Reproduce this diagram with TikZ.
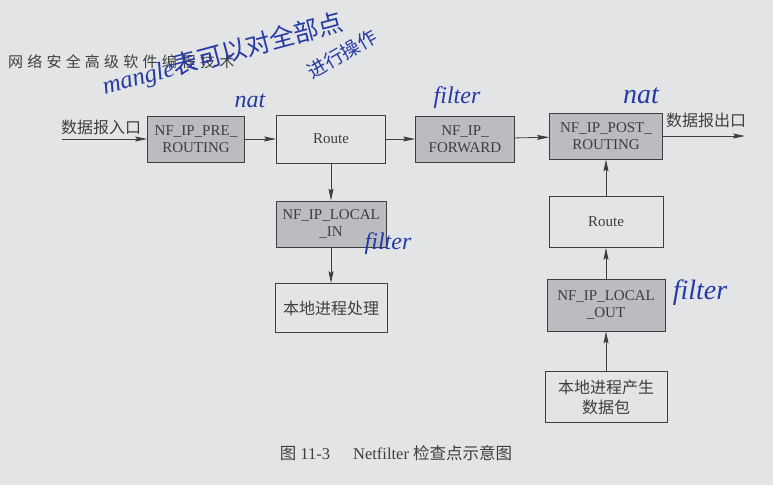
\documentclass[tikz,border=0pt]{standalone}
\usepackage{fontspec}
\setmainfont{Liberation Serif}
\newfontfamily\cjk{Noto Sans CJK SC}
\newfontfamily\cjkwide[LetterSpace=28]{Noto Sans CJK SC}
\usetikzlibrary{arrows.meta, positioning}
\definecolor{paper}{RGB}{226,228,230}
\definecolor{hookgray}{RGB}{186,188,191}
\definecolor{ink}{RGB}{62,62,64}
\definecolor{penblue}{RGB}{38,58,165}
\tikzstyle{arrow} = [ink, line width=0.8pt, -{Stealth[length=12pt,width=5pt,inset=2pt]}]
\tikzstyle{hookbox} = [draw=ink, line width=0.8pt, fill=hookgray, text=ink, minimum height=46pt, align=center, inner sep=2pt, font=\fontsize{15}{17}\selectfont]
\tikzstyle{plainbox} = [draw=ink, line width=0.8pt, text=ink, minimum height=48pt, align=center, inner sep=2pt, font=\fontsize{15}{17}\selectfont]
\tikzstyle{cjktext} = [font=\fontsize{16}{20}\selectfont\cjk]
\tikzstyle{pen} = [text=penblue, inner sep=0pt, font=\fontsize{24}{24}\selectfont\itshape]

\begin{document}
\begin{tikzpicture}[x=1pt, y=-1pt]
        \fill [paper] (0,0) rectangle (773,485);
        \useasboundingbox (0,0) rectangle (773,485);

        % header of the page
        \node at (8,62) [anchor=west, text=ink, inner sep=0pt, font=\fontsize{15}{15}\selectfont\cjkwide] (header) {网络安全高级软件编程技术};

        % main row
        \node at (196,139) [hookbox, minimum width=97pt] (pre) {NF\_IP\_PRE\_\\ROUTING};
        \node at (331,139) [plainbox, minimum width=109pt] (route) {Route};
        \node at (465,139) [hookbox, minimum width=99pt] (fwd) {NF\_IP\_\\FORWARD};
        \node at (606,136) [hookbox, minimum width=113pt] (post) {NF\_IP\_POST\_\\ROUTING};

        % local input
        \node at (331,224) [hookbox, minimum width=110pt] (lin) {NF\_IP\_LOCAL\\\_IN};
        \node at (331,308) [plainbox, cjktext, minimum width=112pt, minimum height=49pt] (proc) {本地进程处理};

        % local output
        \node at (606,222) [plainbox, minimum width=114pt, minimum height=51pt] (route2) {Route};
        \node at (606,305) [hookbox, minimum width=118pt, minimum height=52pt] (lout) {NF\_IP\_LOCAL\\\_OUT};
        \node at (606,397) [plainbox, cjktext, minimum width=122pt, minimum height=51pt] (prod) {本地进程产生\\数据包};

        \coordinate (in) at (62,139);
        \coordinate (out) at (745,136);
        \node at (101,127) [text=ink, cjktext] (inlabel) {数据报入口};
        \node at (706,120) [text=ink, cjktext] (outlabel) {数据报出口};

        \draw [arrow] (in) -- (pre);
        \draw [arrow] (pre) -- (route);
        \draw [arrow] (route) -- (fwd);
        \draw [arrow] (fwd) -- (post);
        \draw [arrow] (post) -- (out);
        \draw [arrow] (route) -- (lin);
        \draw [arrow] (lin) -- (proc);
        \draw [arrow] (prod) -- (lout);
        \draw [arrow] (lout) -- (route2);
        \draw [arrow] (route2) -- (post);

        % caption
        \node at (396,453) [text=ink, font=\fontsize{16.5}{16.5}\selectfont] (caption) {{\cjk 图} 11-3\hspace{1.4em}Netfilter {\cjk 检查点示意图}};

        % handwritten notes
        \node at (250,101) [pen] (nat1) {nat};
        \node at (457,98) [pen] (filter1) {filter};
        \node at (641,96) [pen, font=\fontsize{28}{28}\selectfont\itshape] (nat2) {nat};
        \node at (388,244) [pen] (filter2) {filter};
        \node at (700,293) [pen, font=\fontsize{28}{28}\selectfont\itshape] (filter3) {filter};
        \node at (106,100) [pen, anchor=south west, rotate=15, font=\fontsize{25}{25}\selectfont\itshape] (mangle) {mangle{\cjk 表可以对全部点}};
        \node at (342,54) [pen, rotate=30, font=\fontsize{19}{19}\selectfont\cjk] (mangle2) {进行操作};
    \end{tikzpicture}
\end{document}
